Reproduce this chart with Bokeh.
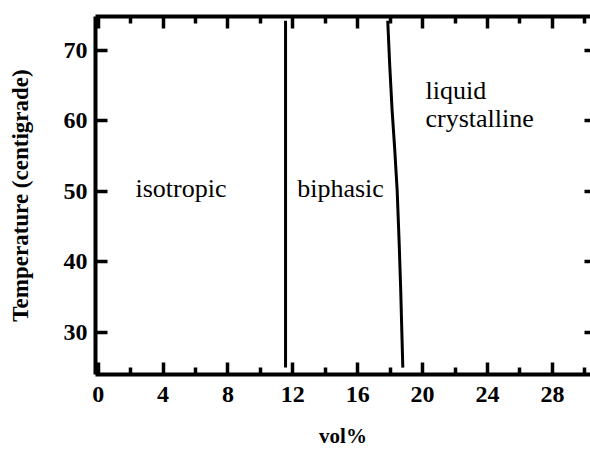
from bokeh.plotting import figure
from bokeh.models import LinearAxis, FixedTicker, ColumnDataSource, Range1d, CustomJSTickFormatter
from bokeh.core.properties import value
from bokeh.embed import file_html
from bokeh.resources import INLINE

# Phase boundaries (vol% vs temperature in centigrade)
iso_boundary_vol = [11.55, 11.55]
iso_boundary_temp = [25.0, 74.2]

lc_boundary_vol = [17.85, 17.97, 18.12, 18.28, 18.43, 18.55, 18.65, 18.72, 18.78]
lc_boundary_temp = [74.2, 68.0, 61.5, 56.0, 50.2, 43.0, 36.0, 30.0, 25.0]

# Region names and their anchor points
region_names = ["isotropic", "biphasic", "liquid", "crystalline"]
region_vol = [2.3, 12.27, 20.18, 20.18]
region_temp = [50.4, 50.4, 64.3, 60.3]

x_major = [0, 4, 8, 12, 16, 20, 24, 28]
x_minor = [2, 6, 10, 14, 18, 22, 26, 30]
y_major = [30, 40, 50, 60, 70]

SERIF = "'Liberation Serif', 'Times New Roman', serif"
INK = "#000000"

p = figure(
    width=590, height=450,
    x_range=Range1d(-0.166, 30.35), y_range=Range1d(24.02, 74.81),
    output_backend="svg", toolbar_location=None,
    x_axis_label="vol%", y_axis_label="Temperature (centigrade)",
    min_border_left=95, min_border_right=0, min_border_top=16, min_border_bottom=75,
)
p.outline_line_color = None
p.xgrid.visible = False
p.ygrid.visible = False
p.background_fill_color = "white"
p.border_fill_color = "white"

x_ticker = FixedTicker(ticks=x_major, minor_ticks=x_minor)
y_ticker = FixedTicker(ticks=y_major, minor_ticks=[])


def style_axis(ax, ticker, show_labels=True, minor=True, tick_in=12):
    ax.ticker = ticker
    ax.axis_line_width = 4
    ax.axis_line_color = INK
    ax.major_tick_in = tick_in
    ax.major_tick_out = 0
    ax.major_tick_line_width = 3.5
    ax.major_tick_line_color = INK
    ax.minor_tick_in = 7 if minor else 0
    ax.minor_tick_out = 0
    ax.minor_tick_line_width = 3.5
    ax.minor_tick_line_color = INK if minor else None
    ax.major_label_text_font = SERIF
    ax.major_label_text_font_style = "bold"
    ax.major_label_text_color = INK
    ax.axis_label_text_font = SERIF
    ax.axis_label_text_font_style = "bold"
    ax.axis_label_text_color = INK
    ax.major_label_text_font_size = "24px"
    if not show_labels:
        # tick marks only, no tick labels on the mirrored axes
        ax.formatter = CustomJSTickFormatter(code="return ''")
        ax.major_label_standoff = 0


xb = p.xaxis[0]
style_axis(xb, x_ticker)
xb.major_label_standoff = 12
xb.axis_label_standoff = 19
xb.axis_label_text_font_size = "21px"

yl = p.yaxis[0]
style_axis(yl, y_ticker, minor=False)
yl.major_label_standoff = 8
yl.axis_label_standoff = 28
yl.axis_label_text_font_size = "23px"

top = LinearAxis()
style_axis(top, x_ticker, show_labels=False)
p.add_layout(top, "above")

right = LinearAxis()
style_axis(right, y_ticker, show_labels=False, minor=False, tick_in=6)
right.axis_line_color = None
p.add_layout(right, "right")

p.line(iso_boundary_vol, iso_boundary_temp, line_color=INK, line_width=3)
p.line(lc_boundary_vol, lc_boundary_temp, line_color=INK, line_width=3)

src = ColumnDataSource(dict(x=region_vol, y=region_temp, t=region_names))
p.text(x="x", y="y", text="t", source=src,
       text_font=value(SERIF), text_font_size=value("26px"),
       text_color=INK, text_baseline="alphabetic", text_align="left")

open("out.html", "w").write(file_html(p, INLINE))
